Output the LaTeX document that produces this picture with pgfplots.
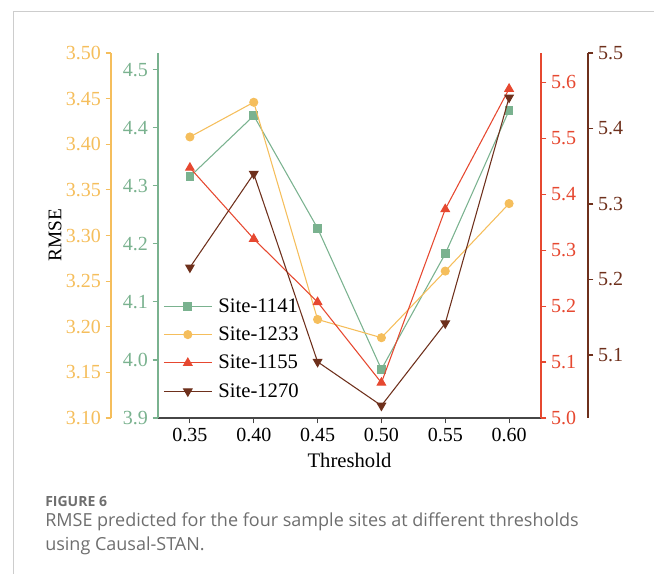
\documentclass[border=0pt]{standalone}
\usepackage{fontspec}
\setmainfont{Liberation Serif}
\newfontfamily\capfont{Open Sans}
\usepackage{pgfplots}
\pgfplotsset{compat=1.18}

\definecolor{cgreen}{RGB}{122,178,143}
\definecolor{corange}{RGB}{245,190,92}
\definecolor{cred}{RGB}{230,72,48}
\definecolor{cbrown}{RGB}{110,48,28}
\definecolor{caxis}{RGB}{70,70,70}
\definecolor{ccap}{RGB}{110,110,110}
\definecolor{cframe}{RGB}{205,205,205}

% one px of the reference = 0.75pt
\pgfplotsset{
  box/.style={
    at={(118.5pt,-313.5pt)}, anchor=south west,
    scale only axis, width=287.25pt, height=273.75pt,
    xmin=0.325, xmax=0.625, clip=false,
  },
  scalebar/.style={
    scale only axis, width=10pt, height=273.75pt,
    xmin=0, xmax=1, hide x axis,
  },
  common/.style={
    tick align=outside, major tick length=4pt,
    axis line style={-, line width=0.8pt},
    tick label style={font=\fontsize{15}{17}\selectfont},
  },
  site/.style={line width=0.8pt, mark options={solid}},
}

\begin{document}
\begin{tikzpicture}
\useasboundingbox (0,0) rectangle (490.5pt,-430.5pt);

% frame of the figure panel
\draw[cframe, line width=0.75pt] (490.5pt,-9pt) -- (9.75pt,-9pt) -- (9.75pt,-430.5pt);

% Site-1141, left inner axis (green)
\begin{axis}[box, common,
  ymin=3.9, ymax=4.529,
  axis x line*=bottom, axis y line*=left,
  x axis line style={draw=caxis},
  y axis line style={draw=cgreen},
  xtick style={draw=caxis, line width=0.8pt},
  ytick style={draw=cgreen, line width=0.8pt},
  xtick={0.35,0.40,0.45,0.50,0.55,0.60},
  xticklabels={0.35,0.40,0.45,0.50,0.55,0.60},
  ytick={3.9,4.0,4.1,4.2,4.3,4.4,4.5},
  yticklabels={3.9,4.0,4.1,4.2,4.3,4.4,4.5},
  yticklabel style={text=cgreen},
]
\addplot[site, cgreen, mark=square*, mark size=2.9pt] coordinates {
  (0.35,4.316) (0.40,4.421) (0.45,4.227) (0.50,3.984) (0.55,4.183) (0.60,4.430)
};
\end{axis}

% Site-1233 scale, left outer axis (orange)
\begin{axis}[scalebar, common,
  at={(83.25pt,-313.5pt)}, anchor=south west,
  ymin=3.10, ymax=3.50,
  axis y line*=left,
  y axis line style={draw=corange},
  ytick style={draw=corange, line width=0.8pt},
  ytick={3.10,3.15,3.20,3.25,3.30,3.35,3.40,3.45,3.50},
  yticklabels={3.10,3.15,3.20,3.25,3.30,3.35,3.40,3.45,3.50},
  yticklabel style={text=corange},
]
\end{axis}

% Site-1233 data
\begin{axis}[box, hide axis, ymin=3.10, ymax=3.50]
\addplot[site, corange, mark=*, mark size=3pt] coordinates {
  (0.35,3.408) (0.40,3.446) (0.45,3.208) (0.50,3.188) (0.55,3.261) (0.60,3.335)
};
\end{axis}

% Site-1155, right inner axis (red)
\begin{axis}[box, common,
  ymin=5.0, ymax=5.652,
  hide x axis, axis y line*=right,
  y axis line style={draw=cred},
  ytick style={draw=cred, line width=0.8pt},
  ytick={5.0,5.1,5.2,5.3,5.4,5.5,5.6},
  yticklabels={5.0,5.1,5.2,5.3,5.4,5.5,5.6},
  yticklabel style={text=cred},
]
\addplot[site, cred, mark=triangle*, mark size=3.6pt] coordinates {
  (0.35,5.447) (0.40,5.320) (0.45,5.207) (0.50,5.063) (0.55,5.373) (0.60,5.588)
};
\end{axis}

% Site-1270 scale, right outer axis (brown)
\begin{axis}[scalebar, common,
  at={(441pt,-313.5pt)}, anchor=south east,
  ymin=5.0166, ymax=5.5,
  axis y line*=right,
  y axis line style={draw=cbrown},
  ytick style={draw=cbrown, line width=0.8pt},
  ytick={5.1,5.2,5.3,5.4,5.5},
  yticklabels={5.1,5.2,5.3,5.4,5.5},
  yticklabel style={text=cbrown},
]
\end{axis}

% Site-1270 data and the legend
\begin{axis}[box, hide axis, ymin=5.0166, ymax=5.5,
  legend cell align=left,
  legend image code/.code={
    \draw[mark repeat=2, mark phase=2, #1] plot coordinates {(0pt,0pt) (18pt,0pt) (36pt,0pt)};
  },
  legend style={draw=none, fill=none, inner sep=0pt,
    at={(0.0131,0.332)}, anchor=north west,
    font=\fontsize{15.5}{17}\selectfont,
    nodes={inner sep=1pt},
    /tikz/row sep=7.5pt, /tikz/column sep=3.5pt},
]
\addlegendimage{site, cgreen, mark=square*, mark size=2.9pt}
\addlegendentry{Site-1141}
\addlegendimage{site, corange, mark=*, mark size=3pt}
\addlegendentry{Site-1233}
\addlegendimage{site, cred, mark=triangle*, mark size=3.6pt}
\addlegendentry{Site-1155}
\addplot[site, cbrown, mark=triangle*, mark size=3.6pt, mark options={rotate=180}] coordinates {
  (0.35,5.216) (0.40,5.340) (0.45,5.091) (0.50,5.033) (0.55,5.142) (0.60,5.441)
};
\addlegendentry{Site-1270}
\end{axis}

% axis titles
\node[rotate=90, font=\fontsize{14.5}{16}\selectfont] at (41.25pt,-176.25pt) {RMSE};
\node[anchor=base, inner sep=0pt, font=\fontsize{15.5}{17}\selectfont] at (262.1pt,-350.25pt) {Threshold};

% caption
\node[anchor=base west, inner sep=0pt, text=ccap] at (33.75pt,-380pt)
  {\capfont\bfseries\fontsize{10.5}{12}\selectfont FIGURE 6};
\node[anchor=base west, inner sep=0pt, text=ccap] at (33.75pt,-395pt)
  {\capfont\fontsize{13.5}{15}\selectfont RMSE predicted for the four sample sites at different thresholds};
\node[anchor=base west, inner sep=0pt, text=ccap] at (33.75pt,-413pt)
  {\capfont\fontsize{13.5}{15}\selectfont using Causal-STAN.};
\end{tikzpicture}
\end{document}
